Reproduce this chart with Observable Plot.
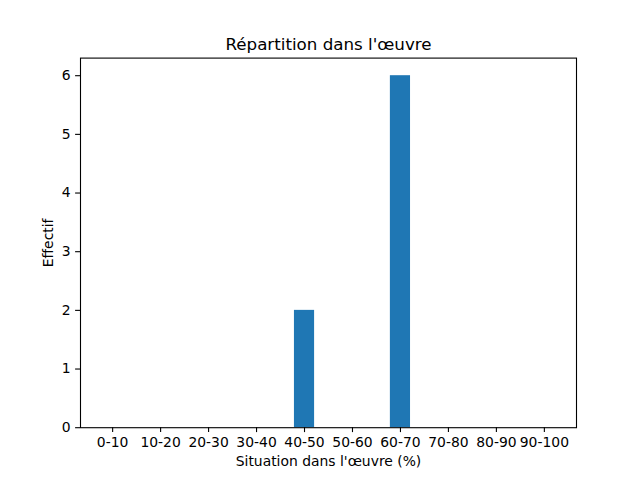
<!DOCTYPE html>
<html>
<head>
<meta charset="utf-8">
<script src="https://cdn.jsdelivr.net/npm/d3@7"></script>
<script src="https://cdn.jsdelivr.net/npm/@observablehq/plot@0.6"></script>
<style>
  html, body { margin: 0; padding: 0; background: white; }
  svg { display: block; }
</style>
</head>
<body>
<div id="chart"></div>
<script>
const categories = ["0-10","10-20","20-30","30-40","40-50","50-60","60-70","70-80","80-90","90-100"];
const counts = [0, 0, 0, 0, 2, 0, 6, 0, 0, 0];
const yTicks = [0, 1, 2, 3, 4, 5, 6];
const title = "Répartition dans l'œuvre";
const xLabel = "Situation dans l'œuvre (%)";
const yLabel = "Effectif";

const barWidth = 0.4;
const data = categories.map((c, i) => ({i, c, v: counts[i]}));
const font = "DejaVu Sans, sans-serif";

const chart = Plot.plot({
  width: 640,
  height: 480,
  marginLeft: 80,
  marginRight: 64,
  marginTop: 57.6,
  marginBottom: 52.8,
  style: {fontFamily: font, fontSize: "13.9px", color: "black", background: "white"},
  x: {type: "linear", domain: [-0.67, 9.67]},
  y: {type: "linear", domain: [0, 6.3]},
  marks: [
    Plot.rectY(data.filter(d => d.v > 0), {x1: d => d.i - barWidth / 2 - 0.01, x2: d => d.i + barWidth / 2 + 0.01, y1: 0, y2: "v", fill: "#1f77b4"}),
    Plot.frame({stroke: "black", strokeWidth: 1.1}),
    Plot.axisX({ticks: categories.map((c, i) => i), tickFormat: i => categories[i], tickSize: 4.9, tickPadding: 4.9, label: null, fontSize: 13.9, strokeWidth: 1.1}),
    Plot.axisY({ticks: yTicks, tickFormat: d => String(d), tickSize: 4.9, tickPadding: 4.9, label: null, fontSize: 13.9, strokeWidth: 1.1}),
    Plot.text([xLabel], {frameAnchor: "bottom", dy: 38, fontSize: 13.9, fill: "black"}),
    Plot.text([yLabel], {frameAnchor: "left", dx: -32, rotate: -90, textAnchor: "middle", fontSize: 13.9, fill: "black"}),
    Plot.text([title], {frameAnchor: "top", dy: -20, fontSize: 16.7, fill: "black"})
  ]
});
document.getElementById("chart").appendChild(chart);
</script>
</body>
</html>
